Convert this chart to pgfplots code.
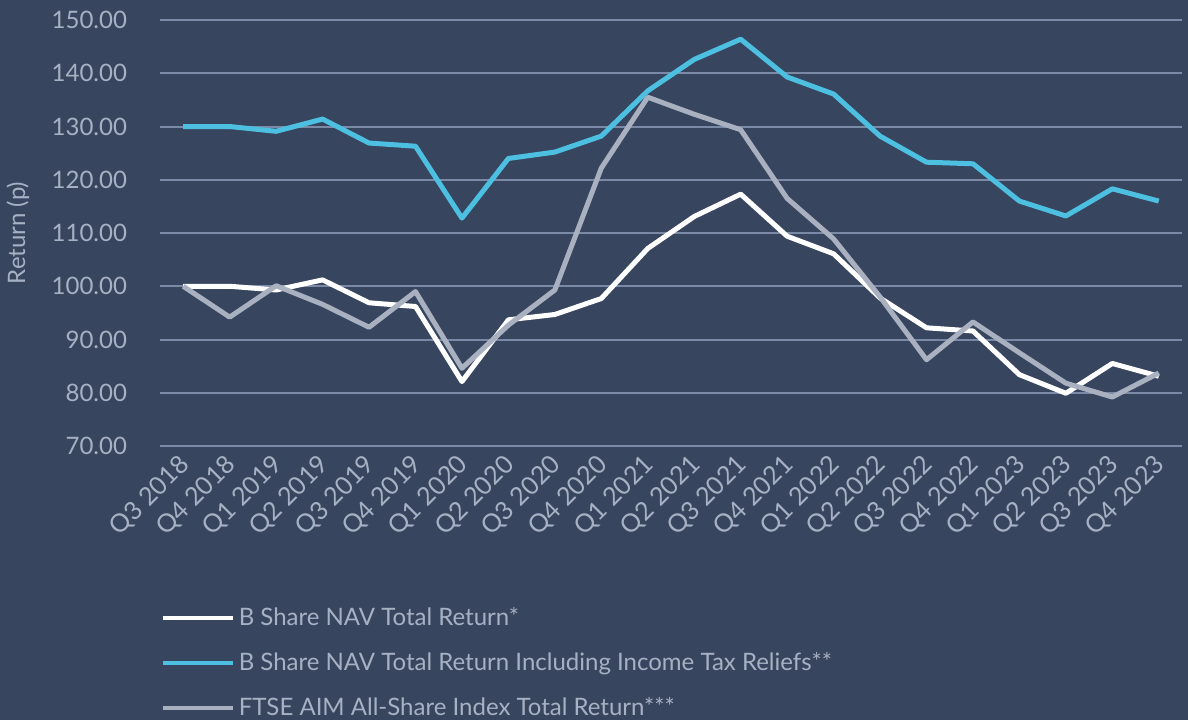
\documentclass[border=0pt]{standalone}
\usepackage{fontspec}
\setmainfont{Lato}
\usepackage{pgfplots}
\pgfplotsset{compat=1.18}
\definecolor{bg}{HTML}{37455E}
\definecolor{gridc}{HTML}{7A8AA6}
\definecolor{txt}{HTML}{A7B1C4}
\definecolor{bluel}{HTML}{4DBFE0}
\definecolor{grayl}{HTML}{A9B1C1}
\begin{document}
\begin{tikzpicture}
\fill[bg] (0,0) rectangle (594pt,360pt);
\begin{axis}[
  at={(80pt,137pt)}, anchor=south west,
  scale only axis, width=511pt, height=213pt,
  xmin=-0.5, xmax=21.5, ymin=70, ymax=150,
  axis line style={draw=none},
  major tick length=0pt,
  xtick={0,...,21},
  xticklabels={Q3 2018,Q4 2018,Q1 2019,Q2 2019,Q3 2019,Q4 2019,Q1 2020,Q2 2020,Q3 2020,Q4 2020,Q1 2021,Q2 2021,Q3 2021,Q4 2021,Q1 2022,Q2 2022,Q3 2022,Q4 2022,Q1 2023,Q2 2023,Q3 2023,Q4 2023},
  xticklabel style={rotate=45, anchor=east, font=\fontsize{12.6}{14}\selectfont, text=txt, yshift=-6pt, xshift=-1pt},
  ytick={70,80,...,150},
  yticklabel style={font=\fontsize{12}{14}\selectfont, text=txt, xshift=-13pt},
  /pgf/number format/assume math mode=true,
  /pgf/number format/.cd, fixed, fixed zerofill, precision=2, /pgfplots/.cd,
  ymajorgrids, major grid style={gridc, line width=1pt},
  legend style={at={(axis description cs:0,-0.368)}, anchor=north west, draw=none, fill=none,
    font=\fontsize{12}{14}\selectfont, text=txt, row sep=8pt, inner sep=0pt},
  legend cell align=left,
  legend image code/.code={\draw[#1, line width=2.2pt] (0pt,0pt) -- (35pt,0pt);},
  every axis plot/.append style={line width=2.5pt, line join=round, mark=none},
]
\addplot[white] coordinates {(0,100) (1,100) (2,99.3) (3,101.2) (4,96.9) (5,96.2) (6,82.1) (7,93.7) (8,94.7) (9,97.7) (10,107.1) (11,113.1) (12,117.3) (13,109.4) (14,106.1) (15,97.8) (16,92.2) (17,91.6) (18,83.4) (19,79.9) (20,85.5) (21,83.1)};
\addlegendentry{B Share NAV Total Return*}
\addplot[bluel] coordinates {(0,130) (1,130) (2,129.1) (3,131.4) (4,126.9) (5,126.3) (6,112.8) (7,124.0) (8,125.2) (9,128.2) (10,136.7) (11,142.6) (12,146.4) (13,139.3) (14,136.1) (15,128.2) (16,123.3) (17,123.0) (18,116.0) (19,113.2) (20,118.3) (21,116.0)};
\addlegendentry{B Share NAV Total Return Including Income Tax Reliefs**}
\addplot[grayl] coordinates {(0,100) (1,94.2) (2,100.1) (3,96.6) (4,92.3) (5,99.0) (6,84.6) (7,92.7) (8,99.3) (9,122.2) (10,135.5) (11,132.3) (12,129.4) (13,116.5) (14,108.9) (15,98.0) (16,86.2) (17,93.3) (18,87.5) (19,81.8) (20,79.2) (21,83.7)};
\addlegendentry{FTSE AIM All-Share Index Total Return***}
\end{axis}
\node[rotate=90, text=txt, font=\fontsize{12}{14}\selectfont] at (9pt,243.5pt) {Return (p)};
\pgfresetboundingbox
\path (0,0) rectangle (594pt,360pt);
\end{tikzpicture}
\end{document}
